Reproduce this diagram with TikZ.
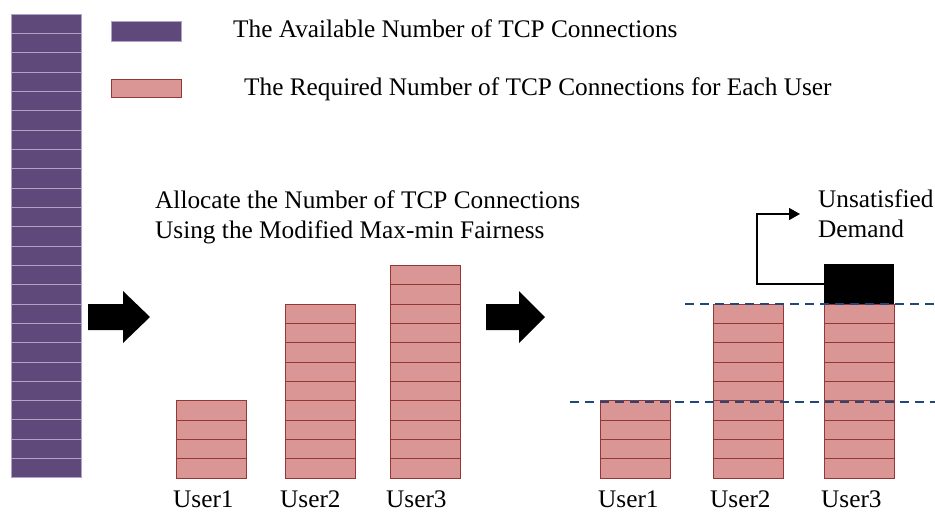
\documentclass[tikz,border=0pt]{standalone}
\usepackage{fontspec}
\setmainfont{Liberation Serif}
\usepackage{xcolor}
\usepackage{tikz}
\usetikzlibrary{positioning,arrows.meta}

\definecolor{availfill}{HTML}{5F497A}
\definecolor{availline}{HTML}{B3A2C7}
\definecolor{reqfill}{HTML}{D99694}
\definecolor{reqline}{HTML}{953735}
\definecolor{levelline}{HTML}{1F497D}

\tikzset{
  availcell/.style={draw=availline,fill=availfill,line width=1pt},
  reqcell/.style={draw=reqline,fill=reqfill,line width=1pt},
  level/.style={draw=levelline,dash pattern=on 9pt off 6pt,line width=2pt},
  txt/.style={font=\fontsize{25.3}{30}\selectfont,inner sep=0pt},
  bigarrow/.style={fill=black},
}

\begin{document}
\begin{tikzpicture}[x=1pt,y=-1pt]
\useasboundingbox (0,0) rectangle (935,512);

% available connections
\foreach \i in {0,...,23}
  \draw[availcell] (11,{14+\i*19.333}) rectangle (81,{14+(\i+1)*19.333});

% legend
\node (availkey) at (146,31) [availcell,minimum width=70pt,minimum height=20pt,inner sep=0pt] {};
\node (reqkey) at (146,88) [reqcell,minimum width=70pt,minimum height=18pt,inner sep=0pt] {};
\node (availtxt) at (233,29) [txt,anchor=west] {The Available Number of TCP Connections};
\node (reqtxt) at (244,89) [txt,anchor=west] {The Required Number of TCP Connections for Each User};

% block arrows
\fill[bigarrow] (88,304) -- (123,304) -- (123,291) -- (150,317) -- (123,343) -- (123,330) -- (88,330) -- cycle;
\fill[bigarrow] (486,304) -- (519,304) -- (519,291) -- (545,317) -- (519,343) -- (519,330) -- (486,330) -- cycle;

\node (alloc) at (155,217) [txt,anchor=west,align=left] {Allocate the Number of TCP Connections\\Using the Modified Max-min Fairness};

% required and allocated connections
\foreach \x/\n in {176/4,285/9,390/11,600/4,713/9,824/9}
  \foreach \i in {1,...,\n}
    \draw[reqcell] (\x,{478-\i*19.33}) rectangle ({\x+70},{478-(\i-1)*19.33});

\node (u1) at (173,499) [txt,anchor=west] {User1};
\node (u2) at (280,499) [txt,anchor=west] {User2};
\node (u3) at (386,499) [txt,anchor=west] {User3};
\node (v1) at (598,499) [txt,anchor=west] {User1};
\node (v2) at (710,499) [txt,anchor=west] {User2};
\node (v3) at (821,499) [txt,anchor=west] {User3};

% unsatisfied part
\node (unmet) at (859,284) [fill=black,minimum width=70pt,minimum height=40pt,inner sep=0pt] {};
\node (unsat) at (800,214) [txt,anchor=west,align=left,inner xsep=18pt] {Unsatisfied\\Demand};
\draw[line width=1.5pt,-{Triangle[length=11pt,width=12pt]}] (unmet.west) -- ++(-67,0) |- (unsat.west);

% levels
\draw[level] (685,304) -- (935,304);
\draw[level] (570,402) -- (935,402);
\end{tikzpicture}
\end{document}
